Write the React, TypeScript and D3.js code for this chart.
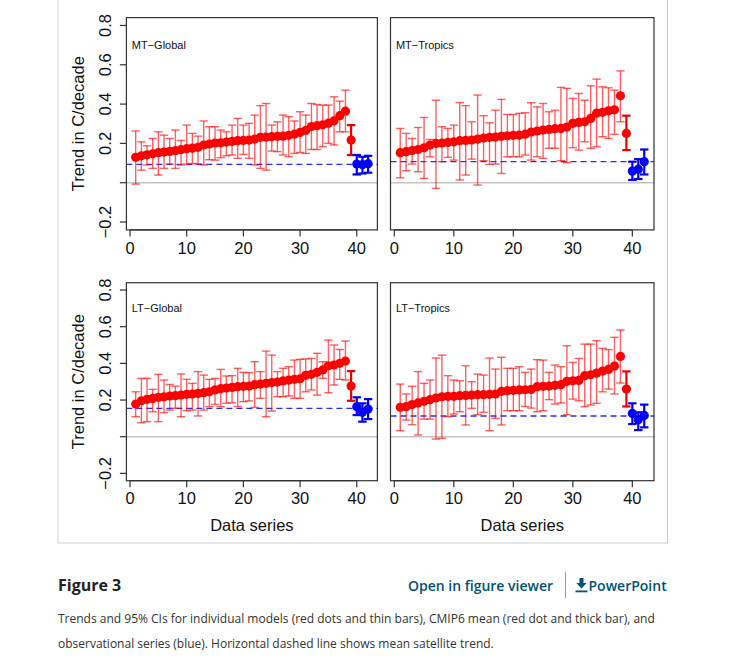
import React from "react";
import * as d3 from "d3";

// ---------- data ----------
const seriesIndex = d3.range(1, 43); // 1..38 models, 39 CMIP6 mean, 40..42 observations
const xTicks = [0, 10, 20, 30, 40];
const yTicks = [-0.2, 0, 0.2, 0.4, 0.6, 0.8];
const yTickLabels = ["\u22120.2", "", "0.2", "0.4", "0.6", "0.8"];
const panelNames = ["MT\u2212Global", "MT\u2212Tropics", "LT\u2212Global", "LT\u2212Tropics"];
const satelliteMean = [0.093, 0.107, 0.155, 0.113];

const mtGlobalMid = [0.129, 0.137, 0.142, 0.147, 0.153, 0.156, 0.159, 0.163, 0.168, 0.173, 0.176, 0.18, 0.192, 0.197, 0.202, 0.203, 0.207, 0.21, 0.214, 0.215, 0.217, 0.222, 0.231, 0.232, 0.234, 0.236, 0.237, 0.241, 0.247, 0.256, 0.266, 0.286, 0.29, 0.295, 0.303, 0.315, 0.341, 0.364, 0.217, 0.095, 0.092, 0.097];
const mtGlobalLo = [-0.007, 0.064, 0.09, 0.073, 0.039, 0.073, 0.095, 0.073, 0.09, 0.095, 0.098, 0.095, 0.09, 0.117, 0.115, 0.127, 0.137, 0.141, 0.124, 0.144, 0.124, 0.09, 0.073, 0.064, 0.161, 0.158, 0.141, 0.132, 0.149, 0.154, 0.149, 0.169, 0.169, 0.183, 0.2, 0.192, 0.259, 0.259, 0.141, 0.042, 0.047, 0.051];
const mtGlobalHi = [0.263, 0.208, 0.188, 0.225, 0.259, 0.242, 0.225, 0.268, 0.215, 0.293, 0.251, 0.237, 0.314, 0.285, 0.285, 0.268, 0.259, 0.293, 0.327, 0.293, 0.302, 0.344, 0.392, 0.403, 0.293, 0.31, 0.344, 0.336, 0.314, 0.361, 0.344, 0.403, 0.398, 0.395, 0.395, 0.437, 0.415, 0.471, 0.293, 0.141, 0.132, 0.137];

const mtTropicsMid = [0.153, 0.158, 0.164, 0.169, 0.178, 0.192, 0.2, 0.202, 0.205, 0.208, 0.214, 0.215, 0.217, 0.222, 0.227, 0.231, 0.232, 0.236, 0.239, 0.241, 0.242, 0.247, 0.258, 0.263, 0.268, 0.271, 0.275, 0.276, 0.283, 0.302, 0.307, 0.31, 0.327, 0.354, 0.358, 0.366, 0.371, 0.442, 0.251, 0.059, 0.069, 0.107];
const mtTropicsLo = [0.025, 0.061, 0.095, 0.056, 0.022, 0.132, -0.029, 0.107, 0.129, 0.115, 0.014, 0.039, 0.12, -0.012, 0.112, 0.093, 0.095, 0.047, 0.132, 0.132, 0.132, 0.141, 0.115, 0.132, 0.124, 0.175, 0.175, 0.112, 0.102, 0.178, 0.166, 0.208, 0.175, 0.183, 0.234, 0.225, 0.246, 0.31, 0.166, 0.014, 0.019, 0.042];
const mtTropicsHi = [0.276, 0.251, 0.225, 0.281, 0.332, 0.22, 0.42, 0.285, 0.276, 0.293, 0.408, 0.392, 0.31, 0.446, 0.341, 0.305, 0.369, 0.424, 0.347, 0.347, 0.353, 0.356, 0.407, 0.386, 0.403, 0.361, 0.369, 0.485, 0.48, 0.429, 0.454, 0.42, 0.493, 0.527, 0.488, 0.483, 0.471, 0.569, 0.341, 0.107, 0.12, 0.169];

const ltGlobalMid = [0.178, 0.196, 0.204, 0.209, 0.215, 0.218, 0.222, 0.224, 0.227, 0.231, 0.233, 0.236, 0.24, 0.245, 0.255, 0.262, 0.265, 0.269, 0.273, 0.275, 0.276, 0.284, 0.287, 0.291, 0.295, 0.298, 0.304, 0.309, 0.313, 0.316, 0.335, 0.34, 0.351, 0.364, 0.387, 0.391, 0.4, 0.413, 0.276, 0.164, 0.133, 0.151];
const ltGlobalLo = [0.109, 0.076, 0.082, 0.136, 0.082, 0.131, 0.145, 0.155, 0.109, 0.142, 0.145, 0.113, 0.145, 0.164, 0.176, 0.164, 0.182, 0.185, 0.164, 0.191, 0.195, 0.16, 0.209, 0.109, 0.14, 0.218, 0.218, 0.222, 0.209, 0.209, 0.245, 0.255, 0.227, 0.318, 0.24, 0.282, 0.313, 0.309, 0.196, 0.118, 0.082, 0.096];
const ltGlobalHi = [0.245, 0.318, 0.318, 0.258, 0.34, 0.309, 0.285, 0.276, 0.342, 0.313, 0.291, 0.355, 0.336, 0.313, 0.318, 0.367, 0.331, 0.333, 0.373, 0.351, 0.349, 0.409, 0.355, 0.467, 0.445, 0.355, 0.373, 0.382, 0.418, 0.422, 0.424, 0.427, 0.455, 0.409, 0.527, 0.5, 0.476, 0.522, 0.358, 0.215, 0.182, 0.205];

const ltTropicsMid = [0.16, 0.164, 0.175, 0.184, 0.193, 0.202, 0.211, 0.218, 0.22, 0.22, 0.224, 0.225, 0.227, 0.229, 0.229, 0.231, 0.233, 0.247, 0.251, 0.253, 0.255, 0.256, 0.258, 0.273, 0.275, 0.276, 0.28, 0.284, 0.302, 0.305, 0.307, 0.333, 0.338, 0.347, 0.358, 0.367, 0.385, 0.438, 0.26, 0.127, 0.093, 0.116];
const ltTropicsLo = [0.033, 0.091, 0.065, 0.009, 0.096, 0.096, -0.013, -0.009, 0.109, 0.124, 0.136, 0.064, 0.155, 0.12, 0.133, 0.033, 0.1, 0.064, 0.142, 0.142, 0.142, 0.165, 0.156, 0.136, 0.142, 0.202, 0.178, 0.184, 0.12, 0.205, 0.196, 0.164, 0.173, 0.182, 0.245, 0.26, 0.233, 0.293, 0.165, 0.069, 0.036, 0.051];
const ltTropicsHi = [0.287, 0.233, 0.275, 0.355, 0.291, 0.309, 0.429, 0.445, 0.333, 0.309, 0.305, 0.387, 0.3, 0.342, 0.336, 0.429, 0.369, 0.433, 0.373, 0.373, 0.382, 0.351, 0.369, 0.42, 0.418, 0.351, 0.391, 0.382, 0.496, 0.405, 0.427, 0.505, 0.505, 0.524, 0.482, 0.475, 0.542, 0.582, 0.356, 0.182, 0.133, 0.175];

const captionLines = [
  "Trends and 95% CIs for individual models (red dots and thin bars), CMIP6 mean (red dot and thick bar), and",
  "observational series (blue). Horizontal dashed line shows mean satellite trend.",
];

// ---------- layout ----------
const W = 749;
const H = 666;
const colX: [number, number][] = [
  [126.4, 377.4],
  [390.5, 654],
];
const rowY: [number, number][] = [
  [17.6, 229.9],
  [282.7, 480.7],
];
const chartFont = "'Liberation Sans', Arial, Helvetica, sans-serif";
const pageFont = "'Open Sans', 'Noto Sans', sans-serif";
const linkColor = "#005274";

type PanelData = { mid: number[]; lo: number[]; hi: number[]; sat: number; name: string };
const panels: PanelData[] = [
  { mid: mtGlobalMid, lo: mtGlobalLo, hi: mtGlobalHi, sat: satelliteMean[0], name: panelNames[0] },
  { mid: mtTropicsMid, lo: mtTropicsLo, hi: mtTropicsHi, sat: satelliteMean[1], name: panelNames[1] },
  { mid: ltGlobalMid, lo: ltGlobalLo, hi: ltGlobalHi, sat: satelliteMean[2], name: panelNames[2] },
  { mid: ltTropicsMid, lo: ltTropicsLo, hi: ltTropicsHi, sat: satelliteMean[3], name: panelNames[3] },
];

function Panel({ data, col, row }: { data: PanelData; col: number; row: number }) {
  const [x0, x1] = colX[col];
  const [y0, y1] = rowY[row];
  const x = d3.scaleLinear().domain([-0.64, 43.64]).range([x0, x1]);
  const y = d3.scaleLinear().domain([-0.24, 0.84]).range([y1, y0]);
  const cap = 4.2;
  const tick = 6.5;
  const axisColor = "#333";

  const bars = seriesIndex.map((s, i) => {
    const kind = s <= 38 ? "model" : s === 39 ? "mean" : "obs";
    const stroke = kind === "model" ? "rgba(255,0,0,0.62)" : kind === "mean" ? "#ee0000" : "#0000ee";
    const sw = kind === "model" ? 1.4 : 2.2;
    const xc = x(s);
    const yl = y(data.lo[i]);
    const yh = y(data.hi[i]);
    return (
      <g key={"b" + s} stroke={stroke} strokeWidth={sw} fill="none">
        <line x1={xc} x2={xc} y1={yl} y2={yh} />
        <line x1={xc - cap} x2={xc + cap} y1={yl} y2={yl} />
        <line x1={xc - cap} x2={xc + cap} y1={yh} y2={yh} />
      </g>
    );
  });

  const dots = seriesIndex.map((s, i) => (
    <circle key={"d" + s} cx={x(s)} cy={y(data.mid[i])} r={4.6} fill={s <= 39 ? "#ff0000" : "#0000ff"} />
  ));

  return (
    <g>
      <line x1={x0} x2={x1} y1={y(0)} y2={y(0)} stroke="#c4c4c4" strokeWidth={1.5} />
      <line x1={x0} x2={x1} y1={y(data.sat)} y2={y(data.sat)} stroke="#2a2aff" strokeWidth={1.3} strokeDasharray="6 4" />
      {bars}
      {dots}
      <rect x={x0} y={y0} width={x1 - x0} height={y1 - y0} fill="none" stroke={axisColor} strokeWidth={1.2} />
      {/* x axis */}
      <line x1={x(0)} x2={x(40)} y1={y1} y2={y1} stroke={axisColor} strokeWidth={1.2} />
      {xTicks.map((t) => (
        <g key={"xt" + t}>
          <line x1={x(t)} x2={x(t)} y1={y1} y2={y1 + tick} stroke={axisColor} strokeWidth={1.2} />
          <text x={x(t)} y={y1 + 23.6} textAnchor="middle" fontSize={16.5} fontFamily={chartFont} fill="#111">
            {t}
          </text>
        </g>
      ))}
      {row === 1 && (
        <text x={(x0 + x1) / 2} y={y1 + 50} textAnchor="middle" fontSize={16.5} fontFamily={chartFont} fill="#111">
          Data series
        </text>
      )}
      {/* y axis only on left column */}
      {col === 0 && (
        <g>
          {yTicks.map((t, i) => (
            <g key={"yt" + t}>
              <line x1={x0 - tick} x2={x0} y1={y(t)} y2={y(t)} stroke={axisColor} strokeWidth={1.2} />
              {yTickLabels[i] && (
                <text
                  transform={`translate(${x0 - 15},${y(t)}) rotate(-90)`}
                  textAnchor="middle"
                  fontSize={16.5}
                  fontFamily={chartFont}
                  fill="#111"
                >
                  {yTickLabels[i]}
                </text>
              )}
            </g>
          ))}
          <text
            transform={`translate(84,${(y0 + y1) / 2}) rotate(-90)`}
            textAnchor="middle"
            fontSize={16.5}
            fontFamily={chartFont}
            fill="#111"
          >
            Trend in C/decade
          </text>
        </g>
      )}
      <text x={x0 + 5.4} y={y0 + 0.148 * (y1 - y0)} fontSize={11} fontFamily={chartFont} fill="#111">
        {data.name}
      </text>
    </g>
  );
}

export default function App() {
  return (
    <svg
      width={W}
      height={H}
      viewBox={`0 0 ${W} ${H}`}
      style={{ position: "absolute", left: 0, top: 0, background: "#fff" }}
    >
      <rect x={0} y={0} width={W} height={H} fill="#fff" />
      {/* figure frame */}
      <rect x={58} y={-2} width={609.5} height={545} fill="none" stroke="#cfcfcf" strokeWidth={1} />
      {panels.map((p, i) => (
        <Panel key={p.name} data={p} col={i % 2} row={Math.floor(i / 2)} />
      ))}
      {/* caption area */}
      <text x={58} y={591} fontSize={16} fontWeight={700} fontFamily={pageFont} fill="#222">
        Figure 3
      </text>
      <text x={553} y={591} textAnchor="end" fontSize={14} fontWeight={600} fontFamily={pageFont} fill={linkColor}>
        Open in figure viewer
      </text>
      <line x1={565.5} x2={565.5} y1={572} y2={598} stroke="#9a9a9a" strokeWidth={1} />
      <g fill={linkColor}>
        <path d="M579.5,578 h4 v5 h3.2 l-5.2,5.6 l-5.2,-5.6 h3.2 z" />
        <rect x={575.5} y={590.5} width={12} height={1.8} />
      </g>
      <text x={588.5} y={591} fontSize={14} fontWeight={600} fontFamily={pageFont} fill={linkColor}>
        PowerPoint
      </text>
      {captionLines.map((line, i) => (
        <text key={i} x={58} y={623 + i * 25} fontSize={12} fontFamily={pageFont} fill="#333">
          {line}
        </text>
      ))}
    </svg>
  );
}
